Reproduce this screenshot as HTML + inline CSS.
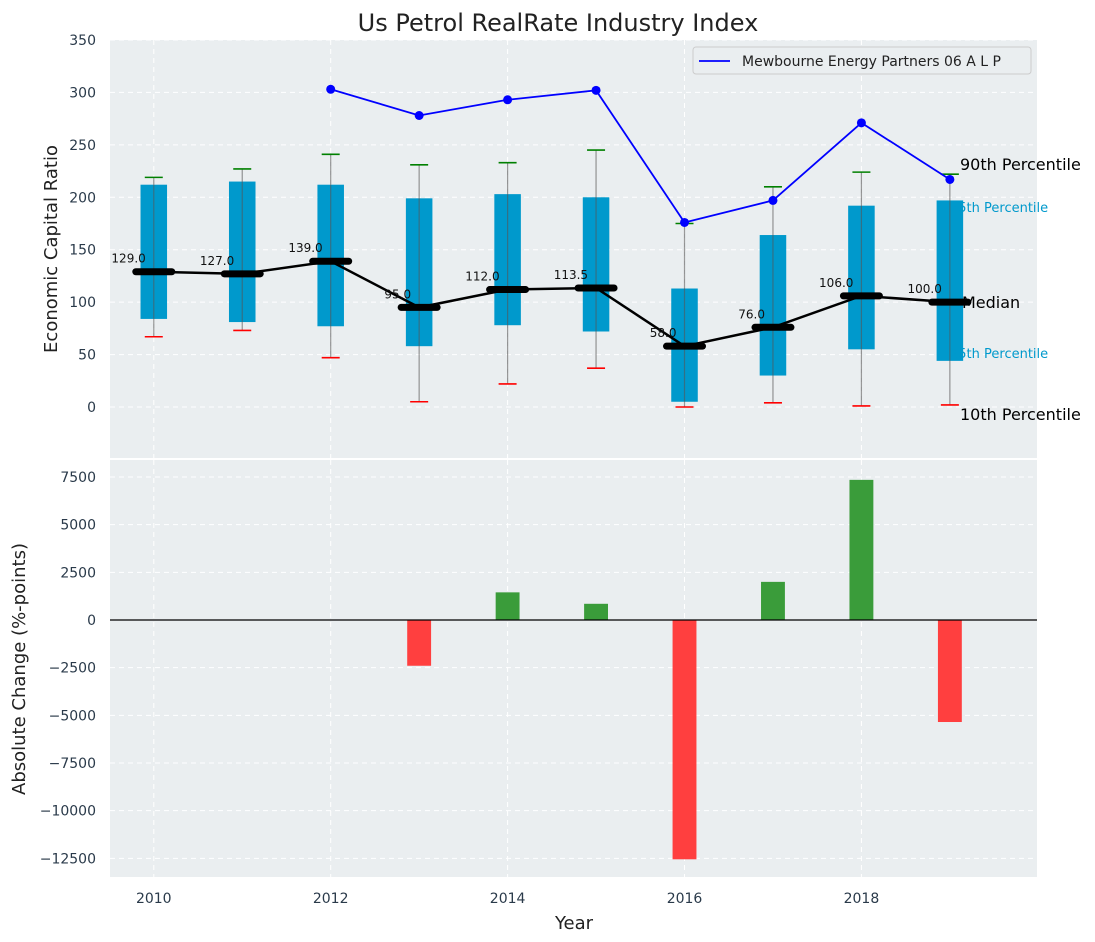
<!DOCTYPE html>
<html><head><meta charset="utf-8"><style>
body{margin:0;background:#fff;}
svg{display:block;font-family:"DejaVu Sans","Liberation Sans",sans-serif;}
</style></head><body>
<svg id="chart" width="1095" height="942" viewBox="0 0 1095 942" xmlns="http://www.w3.org/2000/svg"></svg>
<script>
const years=[2010,2011,2012,2013,2014,2015,2016,2017,2018,2019];
const q1=[84,81,77,58,78,72,5,30,55,44];
const q3=[212,215,212,199,203,200,113,164,192,197];
const whiskLo=[67,73,47,5,22,37,0,4,1,2];
const whiskHi=[219,227,241,231,233,245,175,210,224,222];
const medians=[129,127,139,95,112,113.5,58,76,106,100];
const peerYears=[2012,2013,2014,2015,2016,2017,2018,2019];
const peerValues=[303,278,293,302,176,197,271,217];
const changeYears=[2013,2014,2015,2016,2017,2018,2019];
const changeValues=[-2400,1450,850,-12550,2000,7350,-5350];
const topTicks=[0,50,100,150,200,250,300,350];
const botTicks=[-12500,-10000,-7500,-5000,-2500,0,2500,5000,7500];
const xTicks=[2010,2012,2014,2016,2018];

const svg=document.getElementById('chart');
const NS='http://www.w3.org/2000/svg';
function el(tag,attrs,parent){const e=document.createElementNS(NS,tag);for(const k in attrs)e.setAttribute(k,attrs[k]);(parent||svg).appendChild(e);return e;}
const L=110,R=1037;
const x=v=>L+(v-2009.505)*(R-L)/(2019.985-2009.505);
const T0=40,T1=458;const yT=v=>407-v*(407-40)/350;
const B0=460,B1=877;const yB=v=>620-v*0.019067;

let p=el('rect',{x:L,y:T0,width:R-L,height:T1-T0,fill:'#eaeef0'});

p=el('rect',{x:L,y:B0,width:R-L,height:B1-B0,fill:'#eaeef0'});


xTicks.forEach(t=>{
 [[T0,T1],[B0,B1]].forEach(r=>{const g=el('line',{x1:x(t),x2:x(t),y1:r[0],y2:r[1],stroke:'#fff','stroke-dasharray':'5,4','stroke-width':1});});
 const tl=el('text',{x:x(t),y:903,'text-anchor':'middle','font-size':14,fill:'#2a3a4a'});tl.textContent=t;
 
});
topTicks.forEach(t=>{
 const g=el('line',{x1:L,x2:R,y1:yT(t),y2:yT(t),stroke:'#fff','stroke-dasharray':'5,4'});
 const tl=el('text',{x:96,y:yT(t)+5,'text-anchor':'end','font-size':14,fill:'#2a3a4a'});tl.textContent=t;
 
});
botTicks.forEach(t=>{
 const g=el('line',{x1:L,x2:R,y1:yB(t),y2:yB(t),stroke:'#fff','stroke-dasharray':'5,4'});
 const tl=el('text',{x:96,y:yB(t)+5,'text-anchor':'end','font-size':14,fill:'#2a3a4a'});tl.textContent=t<0?'\u2212'+(-t):t;
 
});

const bw=(x(2010.15)-x(2009.85));
years.forEach((yr,i)=>{
 const cx=x(yr);
 const b=el('rect',{x:cx-bw/2,y:yT(q3[i]),width:bw,height:yT(q1[i])-yT(q3[i]),fill:'#0099cc'});
 
 const w=el('line',{x1:cx,x2:cx,y1:yT(whiskHi[i]),y2:yT(whiskLo[i]),stroke:'#555','stroke-opacity':0.6,'stroke-width':1.2});
 
 const ch=el('line',{x1:cx-9,x2:cx+9,y1:yT(whiskHi[i]),y2:yT(whiskHi[i]),stroke:'green','stroke-width':1.6});
 
 const cl=el('line',{x1:cx-9,x2:cx+9,y1:yT(whiskLo[i]),y2:yT(whiskLo[i]),stroke:'red','stroke-width':1.6});
 
});
const ml=el('polyline',{points:years.map((yr,i)=>x(yr)+','+yT(medians[i])).join(' '),fill:'none',stroke:'#000','stroke-width':2.5});

years.forEach((yr,i)=>{
 const cx=x(yr),cy=yT(medians[i]);
 const m=el('line',{x1:cx-18,x2:cx+18,y1:cy,y2:cy,stroke:'#000','stroke-width':7,'stroke-linecap':'round'});
 
 const t=el('text',{x:cx-8,y:cy-9,'text-anchor':'end','font-size':12,fill:'#111'});t.textContent=medians[i].toFixed(1);
 
});
const pl=el('polyline',{points:peerYears.map((yr,i)=>x(yr)+','+yT(peerValues[i])).join(' '),fill:'none',stroke:'#0000ff','stroke-width':1.8});

peerYears.forEach((yr,i)=>{
 const c=el('circle',{cx:x(yr),cy:yT(peerValues[i]),r:4.5,fill:'#0000ff'});
 
});
[['90th Percentile',960,170,16,'#000'],['75th Percentile',950,212,13,'#0099cc'],['Median',962,308,16,'#000'],['25th Percentile',950,358,13,'#0099cc'],['10th Percentile',960,420,16,'#000']].forEach(a=>{
 const t=el('text',{x:a[1],y:a[2],'font-size':a[3],fill:a[4]});t.textContent=a[0];
 
});
const lg=el('g',{});
el('rect',{x:693,y:47,width:338,height:27,rx:3,fill:'#eaeef0',stroke:'#ccc'},lg);
el('line',{x1:699,x2:730,y1:61,y2:61,stroke:'#0000ff','stroke-width':1.8},lg);
const lt=el('text',{x:742,y:66,'font-size':14,fill:'#222'},lg);lt.textContent='Mewbourne Energy Partners 06 A L P';

const barW=x(2010.135)-x(2009.865);
changeYears.forEach((yr,i)=>{
 const v=changeValues[i];
 const b=el('rect',{x:x(yr)-barW/2,y:Math.min(yB(0),yB(v)),width:barW,height:Math.abs(yB(v)-yB(0)),fill:v>=0?'#3a9c3a':'#ff3f3f'});
 
});
const zl=el('line',{x1:L,x2:R,y1:yB(0),y2:yB(0),stroke:'#000','stroke-width':1.3});


let t=el('text',{x:558,y:31,'text-anchor':'middle','font-size':24,fill:'#222'});t.textContent='Us Petrol RealRate Industry Index';

t=el('text',{x:574,y:929,'text-anchor':'middle','font-size':18,fill:'#222'});t.textContent='Year';

t=el('text',{x:0,y:0,'text-anchor':'middle','font-size':18,fill:'#222',transform:'translate(57,249) rotate(-90)'});t.textContent='Economic Capital Ratio';

t=el('text',{x:0,y:0,'text-anchor':'middle','font-size':18,fill:'#222',transform:'translate(25,669) rotate(-90)'});t.textContent='Absolute Change (%-points)';

</script>
</body></html>
